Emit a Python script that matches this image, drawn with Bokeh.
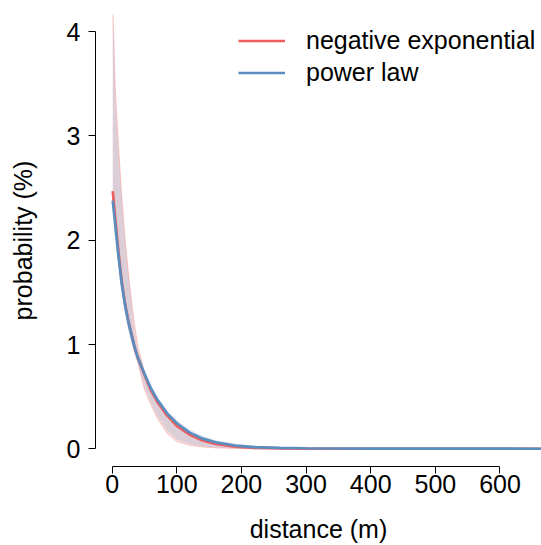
from bokeh.plotting import figure
from bokeh.models import Range1d, FixedTicker, Legend, LegendItem
from bokeh.embed import file_html
from bokeh.resources import INLINE

# distance (m)
distance = [1, 5, 10, 15, 20, 25, 30, 35, 40, 50, 60, 70, 85, 100, 120, 140, 160,
            190, 220, 260, 300, 400, 500, 600, 700]
# fitted probabilities (%)
negexp = [2.47, 2.20, 1.88, 1.60, 1.39, 1.23, 1.10, 0.97, 0.87, 0.71, 0.56, 0.45, 0.32,
          0.22, 0.135, 0.080, 0.047, 0.020, 0.009, 0.003, 0.001, 0.0, 0.0, 0.0, 0.0]
powlaw = [2.38, 2.14, 1.84, 1.58, 1.38, 1.22, 1.09, 0.97, 0.87, 0.72, 0.58, 0.47, 0.34,
          0.245, 0.155, 0.097, 0.062, 0.031, 0.016, 0.008, 0.005, 0.002, 0.001, 0.0006, 0.0004]
# uncertainty bands
negexp_hi = [4.25, 3.45, 2.90, 2.42, 2.02, 1.70, 1.42, 1.18, 0.98, 0.73, 0.585, 0.475, 0.345,
             0.245, 0.155, 0.098, 0.062, 0.031, 0.016, 0.008, 0.005, 0.002, 0.001, 0.0006, 0.0004]
negexp_lo = [2.45, 2.18, 1.86, 1.58, 1.36, 1.19, 1.04, 0.92, 0.82, 0.57, 0.42, 0.29, 0.15,
             0.07, 0.034, 0.018, 0.009, 0.003, 0.001, 0.0, 0.0, 0.0, 0.0, 0.0, 0.0]
powlaw_hi = [4.15, 3.35, 2.82, 2.36, 1.98, 1.67, 1.38, 1.10, 0.93, 0.76, 0.615, 0.50, 0.37,
             0.275, 0.185, 0.125, 0.085, 0.05, 0.03, 0.016, 0.01, 0.004, 0.002, 0.0012, 0.0008]
powlaw_lo = [2.25, 1.98, 1.70, 1.46, 1.28, 1.13, 1.01, 0.91, 0.82, 0.60, 0.445, 0.315, 0.175,
             0.09, 0.045, 0.024, 0.012, 0.005, 0.002, 0.001, 0.0, 0.0, 0.0, 0.0, 0.0]

x_ticks = [0, 100, 200, 300, 400, 500, 600]
y_ticks = [0, 1, 2, 3, 4]
series_names = ["negative exponential", "power law"]

RED = "#EE5E5E"
BLUE = "#5B8DBE"
FONT = "Liberation Sans"
FS = "25px"

p = figure(width=541, height=545,
           x_range=Range1d(-25.7, 664.2), y_range=Range1d(-0.17, 4.165),
           min_border_left=95, min_border_right=0, min_border_top=14, min_border_bottom=77,
           output_backend="svg", toolbar_location=None)
p.outline_line_color = None
p.xgrid.visible = False
p.ygrid.visible = False

p.varea(x=distance, y1=negexp_lo, y2=negexp_hi, fill_color=RED, fill_alpha=0.21)
p.line(distance, negexp_lo, line_color=RED, line_alpha=0.3, line_width=1)
p.line(distance, negexp_hi, line_color=RED, line_alpha=0.3, line_width=1)
p.varea(x=distance, y1=powlaw_lo, y2=powlaw_hi, fill_color=BLUE, fill_alpha=0.19)

r_neg = p.line(distance, negexp, line_color=RED, line_width=2.7)
r_pow = p.line(distance, powlaw, line_color=BLUE, line_width=2.7)

for ax in (p.xaxis[0], p.yaxis[0]):
    ax.axis_line_color = "black"
    ax.axis_line_width = 1
    ax.major_tick_line_color = "black"
    ax.minor_tick_line_color = None
    ax.major_tick_out = 7
    ax.major_tick_in = 0
    ax.major_label_text_font = FONT
    ax.major_label_text_font_size = FS
    ax.major_label_text_color = "black"
    ax.axis_label_text_font = FONT
    ax.axis_label_text_font_size = FS
    ax.axis_label_text_font_style = "normal"
    ax.axis_label_text_color = "black"

p.xaxis.ticker = FixedTicker(ticks=x_ticks)
p.xaxis.bounds = (0, 600)
p.xaxis.major_label_standoff = 1
p.xaxis.major_label_text_line_height = 0.9
p.xaxis.axis_label_text_line_height = 0.9
p.xaxis.axis_label = "distance (m)"
p.xaxis.axis_label_standoff = 19

p.yaxis.ticker = FixedTicker(ticks=y_ticks)
p.yaxis.bounds = (0, 4)
p.yaxis.major_label_standoff = 8
p.yaxis.axis_label = "probability (%)"
p.yaxis.axis_label_standoff = 27

legend = Legend(items=[LegendItem(label=series_names[0], renderers=[r_neg]),
                       LegendItem(label=series_names[1], renderers=[r_pow])],
                location=(143, 379), padding=0, margin=0, spacing=3,
                glyph_width=47, glyph_height=29, label_standoff=21, label_height=29,
                label_text_font=FONT, label_text_font_size=FS, label_text_color="black",
                background_fill_alpha=0, border_line_alpha=0)
p.add_layout(legend)

open("out.html", "w").write(file_html(p, INLINE))
